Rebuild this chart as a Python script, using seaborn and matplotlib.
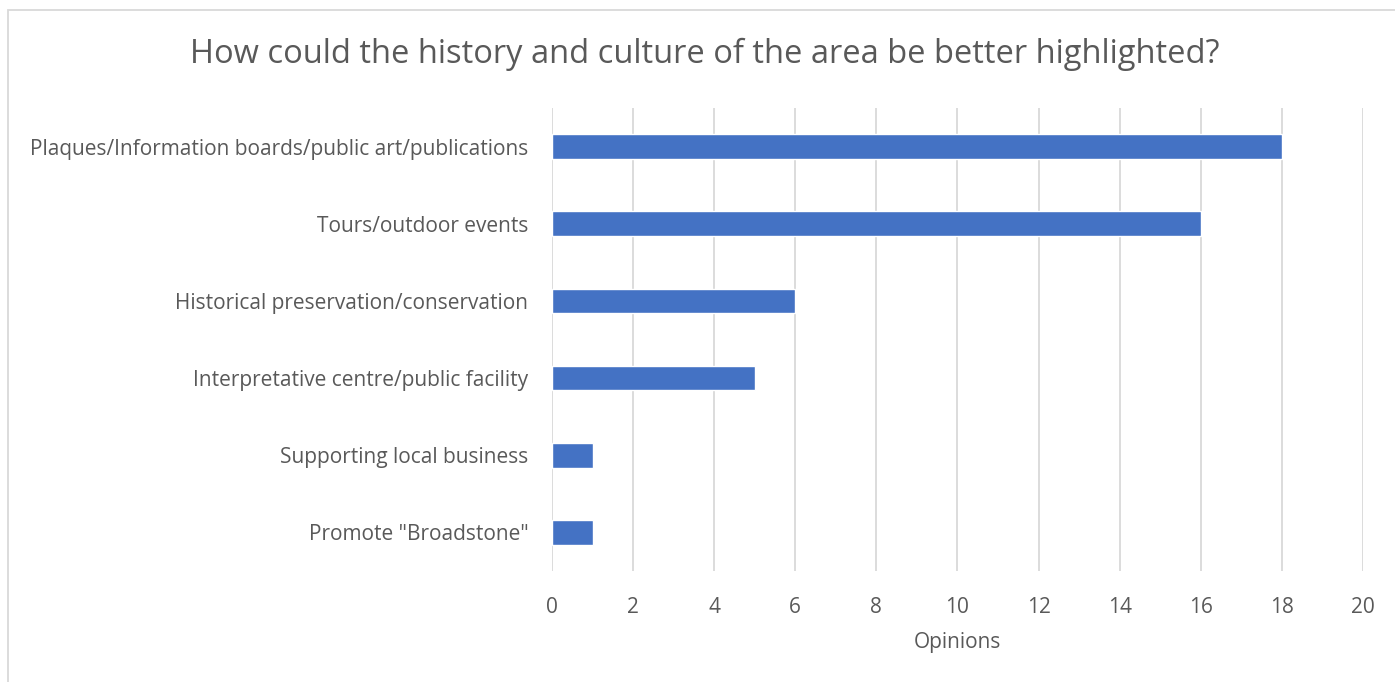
import pandas as pd
import matplotlib
matplotlib.use("Agg")
import matplotlib.pyplot as plt
import seaborn as sns
from matplotlib.patches import Rectangle

# data
categories = [
    "Plaques/Information boards/public art/publications",
    "Tours/outdoor events",
    "Historical preservation/conservation",
    "Interpretative centre/public facility",
    "Supporting local business",
    'Promote "Broadstone"',
]
opinions = [18, 16, 6, 5, 1, 1]
x_ticks = [0, 2, 4, 6, 8, 10, 12, 14, 16, 18, 20]

df = pd.DataFrame({"category": categories, "opinions": opinions})

sns.set_theme(style="white")
plt.rcParams["font.family"] = ["Open Sans", "DejaVu Sans"]
text_col = "#595959"
grid_col = "#d9d9d9"

fig = plt.figure(figsize=(13.95, 6.82), dpi=100)
ax = fig.add_axes([552 / 1395, 1 - 571 / 682, (1363 - 552) / 1395, (571 - 108) / 682])

sns.barplot(data=df, x="opinions", y="category", color="#4472C4",
            width=0.32, saturation=1, ax=ax, zorder=3)

ax.set_xlim(0, 20)
ax.set_ylim(5.5, -0.5)
ax.set_xticks(x_ticks)
ax.set_xticklabels([str(t) for t in x_ticks])
ax.grid(axis="x", color=grid_col, linewidth=1.3, zorder=0)
ax.grid(axis="y", visible=False)
for s in ax.spines.values():
    s.set_visible(False)
ax.tick_params(axis="both", length=0, labelsize=15, colors=text_col)
ax.tick_params(axis="x", pad=19)
ax.tick_params(axis="y", pad=17)
ax.set_ylabel("")
ax.set_xlabel("Opinions", fontsize=15, color=text_col, labelpad=10)

fig.text(705 / 1395, 1 - 54 / 682, "How could the history and culture of the area be better highlighted?",
         ha="center", va="center", fontsize=23.5, color=text_col)

# chart frame like the spreadsheet export
fig.patches.append(Rectangle((8 / 1395, -0.1), 1.2, 1 - 10 / 682 + 0.1, transform=fig.transFigure,
                             fill=False, edgecolor="#d9d9d9", linewidth=1.3))

fig.savefig("out.png", dpi=100)
